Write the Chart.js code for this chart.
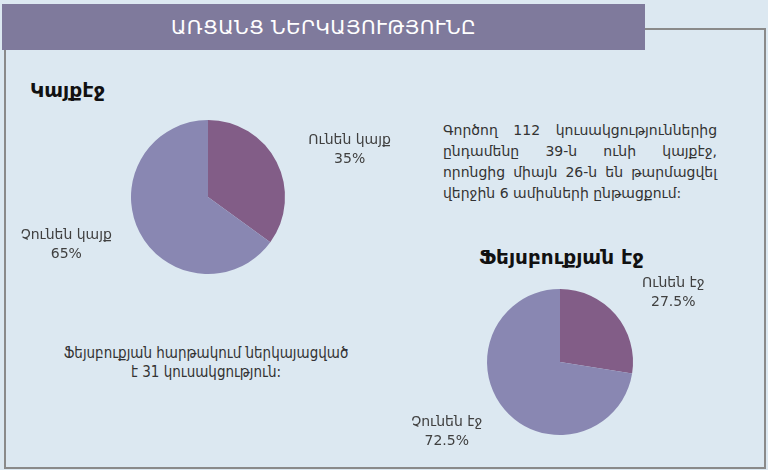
<!DOCTYPE html>
<html>
<head>
<meta charset="utf-8">
<script src="https://cdn.jsdelivr.net/npm/chart.js@4"></script>
<style>
  html, body { margin: 0; padding: 0; }
  body { width: 768px; height: 470px; background: #dce8f1; position: relative; overflow: hidden;
         font-family: "DejaVu Sans", sans-serif; color: #333; }
  .frame { position: absolute; left: 4px; top: 28px; width: 758px; height: 437px; border: 2px solid #8a8a8a; }
  .header { position: absolute; left: 2px; top: 4px; width: 643px; height: 46px; background: #7f7a9c;
            color: #fff; font-size: 20px; letter-spacing: 0.4px; line-height: 46px; text-align: center; }
  .title { position: absolute; font-weight: bold; font-size: 20px; color: #111; }
  .note { position: absolute; font-size: 14px; line-height: 21px; color: #333; }
  .note div { white-space: nowrap; text-align: justify; text-align-last: justify; }
  .note div.last { text-align-last: left; }
  .fb-note { position: absolute; left: 30px; width: 352px; top: 344px; text-align: center;
             font-family: "DejaVu Sans Condensed", "DejaVu Sans", sans-serif; font-size: 15px; line-height: 19px; color: #333; }
  .box { position: absolute; }
</style>
</head>
<body>
<div class="frame"></div>
<div class="header">ԱՌՑԱՆՑ ՆԵՐԿԱՅՈՒԹՅՈՒՆԸ</div>
<div class="title" style="left:30px; top:78px;">Կայքէջ</div>
<div class="title" style="left:479px; top:245px;">Ֆեյսբուքյան էջ</div>
<div class="note" style="left:443px; top:120px; width:274px;">
  <div>Գործող 112 կուսակցություններից</div>
  <div>ընդամենը 39-ն ունի կայքէջ,</div>
  <div>որոնցից միայն 26-ն են թարմացվել</div>
  <div class="last">վերջին 6 ամիսների ընթացքում:</div>
</div>
<div class="fb-note">Ֆեյսբուքյան հարթակում ներկայացված<br>է 31 կուսակցություն:</div>

<div class="box" style="left:0px; top:60px; width:420px; height:240px;"><canvas id="siteChart"></canvas></div>
<div class="box" style="left:380px; top:270px; width:380px; height:200px;"><canvas id="fbChart"></canvas></div>

<script>
// Websites and Facebook pages of parties, shares in percent
const siteLabels = ["Ունեն կայք", "Չունեն կայք"];
const siteValues = [35, 65];

const fbLabels = ["Ունեն էջ", "Չունեն էջ"];
const fbValues = [27.5, 72.5];

const sliceColors = ["#825d87", "#8987b2"];

// writes name + percent outside each slice
const sliceLabels = {
  id: "sliceLabels",
  afterDatasetsDraw(chart, args, opts) {
    const ctx = chart.ctx;
    const meta = chart.getDatasetMeta(0);
    const values = chart.data.datasets[0].data;
    ctx.save();
    ctx.font = "14px 'DejaVu Sans', sans-serif";
    ctx.fillStyle = "#404040";
    ctx.textAlign = "center";
    ctx.textBaseline = "middle";
    meta.data.forEach((arc, i) => {
      const p = arc.getProps(["x", "y", "startAngle", "endAngle", "outerRadius"], true);
      const mid = (p.startAngle + p.endAngle) / 2 + opts.shift * Math.PI / 180;
      const d = p.outerRadius * opts.radius;
      const px = p.x + Math.cos(mid) * d;
      const py = p.y + Math.sin(mid) * d;
      ctx.fillText(chart.data.labels[i], px, py - 9.5);
      ctx.fillText(values[i] + "%", px, py + 9.5);
    });
    ctx.restore();
  },
};

function makePie(el, labels, values, padding, labelOpts) {
  return new Chart(el, {
    type: "pie",
    data: {
      labels: labels,
      datasets: [{ data: values, backgroundColor: sliceColors, borderWidth: 0 }],
    },
    options: {
      responsive: true,
      maintainAspectRatio: false,
      animation: false,
      layout: { padding: padding },
      plugins: {
        legend: { display: false },
        tooltip: { enabled: false },
        sliceLabels: labelOpts,
      },
    },
    plugins: [sliceLabels],
  });
}

makePie(document.querySelector("#siteChart"), siteLabels, siteValues,
  { left: 131, right: 135, top: 60, bottom: 26 }, { radius: 1.94, shift: 8.5 });
makePie(document.querySelector("#fbChart"), fbLabels, fbValues,
  { left: 107, right: 127, top: 19, bottom: 35 }, { radius: 1.82, shift: 9 });
</script>
</body>
</html>
